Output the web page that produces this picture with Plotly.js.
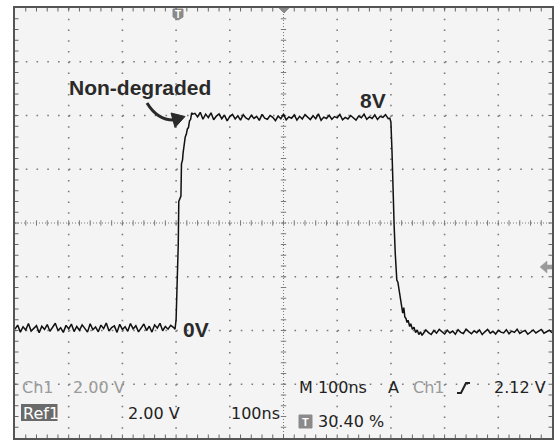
<!DOCTYPE html>
<html><head><meta charset="utf-8">
<script src="https://cdn.plot.ly/plotly-3.0.1.min.js"></script>
<style>html,body{margin:0;padding:0;background:#fff}#chart{width:554px;height:441px}</style>
</head><body><div id="chart"></div>
<script>
// Waveform samples (time in ns, voltage in V)
const tBase1 = [0,5,10,15,20,25,30,35,40,45,50,55,60,65,70,75,80,85,90,95,100,105,110,115,120,125,130,135,140,145,150,155,160,165,170,175,180,185,190,195,200,205,210,215,220,225,230,235,240,245,250,255,260,265,270,275,280,285,290];
const vBase1 = [0.05,0.20,-0.06,0.14,0.02,0.26,-0.02,0.09,0.18,-0.08,0.16,0.04,0.22,-0.03,0.12,0.27,0.00,0.10,-0.07,0.19,0.06,0.24,-0.04,0.15,0.01,0.21,0.08,-0.06,0.25,0.03,0.13,-0.05,0.20,0.07,0.28,-0.02,0.11,0.17,-0.07,0.23,0.04,0.14,-0.03,0.26,0.06,0.18,-0.05,0.12,0.24,0.00,0.16,-0.06,0.21,0.09,0.27,-0.01,0.15,0.05,0.19];
const tRise = [295,298,300,302,304,305,307,309,310,312,313,315,317,319,321,323,325,327,329,331];
const vRise = [0.12,0.05,0.4,1.6,3.2,4.8,4.9,5.0,6.2,6.35,6.6,7.0,7.2,7.3,7.5,7.55,7.8,7.85,8.1,8.05];
const tTop = [335,340,345,350,355,360,365,370,375,380,385,390,395,400,405,410,415,420,425,430,435,440,445,450,455,460,465,470,475,480,485,490,495,500,505,510,515,520,525,530,535,540,545,550,555,560,565,570,575,580,585,590,595,600,605,610,615,620,625,630,635,640,645,650,655,660,665,670,675,680,685,690,695];
const vTop = [8.08,7.95,8.12,7.86,8.05,7.92,8.10,7.84,7.98,8.06,7.88,8.02,7.80,7.96,8.04,7.87,7.99,7.83,8.03,7.91,7.85,8.01,7.89,7.97,7.82,8.04,7.90,7.86,8.00,7.93,7.81,7.98,7.88,8.05,7.84,7.95,7.90,8.02,7.83,7.97,7.87,8.03,7.92,7.85,7.99,7.88,8.06,7.82,7.94,7.89,8.01,7.86,7.96,7.91,8.04,7.84,7.93,7.87,8.00,7.90,7.83,7.98,7.92,8.05,7.86,7.95,7.89,8.02,7.85,7.97,7.93,8.03,7.88];
const tFall = [698,700,702,704,706,708,711,713,716,718,720,722,724,726,728,730,732,735,737,740,743,746,749,752,755,758];
const vFall = [7.9,7.76,6.7,4.86,3.93,2.9,1.88,1.8,1.35,1.1,0.9,0.65,0.85,0.5,0.45,0.3,0.38,0.15,0.25,0.05,0.12,-0.08,0.02,-0.15,-0.05,-0.18];
const tBase2 = [760,765,770,775,780,785,790,795,800,805,810,815,820,825,830,835,840,845,850,855,860,865,870,875,880,885,890,895,900,905,910,915,920,925,930,935,940,945,950,955,960,965,970,975,980,985,990,995,1000];
const vBase2 = [-0.12,0.02,-0.08,-0.15,0.00,-0.10,0.04,-0.06,-0.13,0.01,-0.09,-0.02,-0.14,0.03,-0.07,-0.11,0.05,-0.04,-0.12,-0.01,-0.08,0.02,-0.15,-0.05,0.04,-0.10,-0.03,-0.13,0.01,-0.06,-0.09,0.03,-0.12,-0.02,-0.07,0.05,-0.11,-0.04,0.00,-0.14,-0.06,0.02,-0.09,-0.03,0.04,-0.10,-0.05,0.01,-0.08];

// Readout labels
const labelSignal = 'Non-degraded';
const labelHigh = '8V';
const labelLow = '0V';
const readCh = 'Ch1';
const readScale = '2.00 V';
const readRef = 'Ref1';
const readRefScale = '2.00 V';
const readRefTime = '100ns';
const readTrigPos = '30.40 %';
const readM = 'M 100ns';
const readA = 'A';
const readTrigLevel = '2.12 V';

const X0 = 0, X1 = 1000, Y0 = -4, Y1 = 12;
const L = 15, T = 8, W = 537, H = 430;
const tx = px => X0 + (px - L) / W * (X1 - X0);
const vy = py => Y1 - (py - T) / H * (Y1 - Y0);

const t = [].concat(tBase1, tRise, tTop, tFall, tBase2);
const v = [].concat(vBase1, vRise, vTop, vFall, vBase2);

const shapes = [];
const grey = '#7a7a7a';
const dotDash = '1.6px,9.15px';
// dotted graticule (major divisions)
for (let k = 1; k < 10; k++) {
  if (k === 5) continue;
  shapes.push({type:'line', layer:'below', xref:'x', yref:'y', x0:k * 100, x1:k * 100, y0:Y1, y1:Y0, line:{color:grey, width:1.6, dash:dotDash}});
}
for (let k = 1; k < 8; k++) {
  if (k === 4) continue;
  const y = Y0 + k * 2;
  shapes.push({type:'line', layer:'below', xref:'x', yref:'y', x0:X0, x1:X1, y0:y, y1:y, line:{color:grey, width:1.6, dash:dotDash}});
}
// centre cross (denser dotted) with ticks
shapes.push({type:'line', layer:'below', xref:'x', yref:'y', x0:500, x1:500, y0:Y1, y1:Y0, line:{color:grey, width:1, dash:'1px,2px'}});
shapes.push({type:'line', layer:'below', xref:'x', yref:'y', x0:X0, x1:X1, y0:4, y1:4, line:{color:grey, width:1, dash:'1px,2px'}});
for (let k = 1; k < 50; k++) {
  const x = k * 20;
  shapes.push({type:'line', layer:'below', xref:'x', yref:'y', x0:x, x1:x, y0:4 - 0.1, y1:4 + 0.1, line:{color:grey, width:1}});
}
for (let k = 1; k < 40; k++) {
  const y = Y0 + k * 0.4;
  shapes.push({type:'line', layer:'below', xref:'x', yref:'y', x0:500 - 5, x1:500 + 5, y0:y, y1:y, line:{color:grey, width:1}});
}
// edge ticks
for (let k = 1; k < 50; k++) {
  const x = k * 20;
  shapes.push({type:'line', layer:'below', xref:'x', yref:'y', x0:x, x1:x, y0:Y1, y1:vy(T + 3.5), line:{color:'#666', width:1}});
  shapes.push({type:'line', layer:'below', xref:'x', yref:'y', x0:x, x1:x, y0:Y0, y1:vy(T + H - 3.5), line:{color:'#666', width:1}});
}
for (let k = 1; k < 40; k++) {
  const y = Y0 + k * 0.4;
  shapes.push({type:'line', layer:'below', xref:'x', yref:'y', x0:X0, x1:tx(L + 3.5), y0:y, y1:y, line:{color:'#666', width:1}});
  shapes.push({type:'line', layer:'below', xref:'x', yref:'y', x0:X1, x1:tx(L + W - 3.5), y0:y, y1:y, line:{color:'#666', width:1}});
}
const P = (px, py) => tx(px).toFixed(2) + ',' + vy(py).toFixed(3);
// curved arrow
shapes.push({type:'path', xref:'x', yref:'y', path:'M' + P(147,103) + ' Q' + P(158,121) + ' ' + P(175,120), line:{color:'#2a2a2a', width:3}});
shapes.push({type:'path', xref:'x', yref:'y', path:'M' + P(185,116.5) + ' L' + P(171,113) + ' L' + P(175,127.5) + ' Z', fillcolor:'#2a2a2a', line:{color:'#2a2a2a', width:1}});
// trigger marker top
shapes.push({type:'path', xref:'x', yref:'y', path:'M' + P(173,9) + ' L' + P(183,9) + ' L' + P(183,17) + ' L' + P(178,20) + ' L' + P(173,17) + ' Z', fillcolor:'#8a8a8a', line:{color:'#8a8a8a', width:1}});
// horizontal position marker
shapes.push({type:'path', xref:'x', yref:'y', path:'M' + P(279,8) + ' L' + P(289,8) + ' L' + P(284,13) + ' Z', fillcolor:'#8a8a8a', line:{color:'#8a8a8a', width:1}});
// trigger level marker right
shapes.push({type:'path', xref:'x', yref:'y', path:'M' + P(540,267) + ' L' + P(547,261) + ' L' + P(547,265) + ' L' + P(552,265) + ' L' + P(552,269) + ' L' + P(547,269) + ' L' + P(547,273) + ' Z', fillcolor:'#9a9a9a', line:{color:'#9a9a9a', width:0.5}});
// slope icon
shapes.push({type:'path', xref:'x', yref:'y', path:'M' + P(457,393) + ' L' + P(461,393) + ' L' + P(466,383) + ' L' + P(470,383), line:{color:'#222', width:2}});
// T icon bottom
shapes.push({type:'rect', xref:'x', yref:'y', x0:tx(299), x1:tx(312), y0:vy(415), y1:vy(428), fillcolor:'#8a8a8a', line:{color:'#8a8a8a', width:1}});
// Ref1 box
shapes.push({type:'rect', xref:'x', yref:'y', x0:tx(21), x1:tx(57.5), y0:vy(404), y1:vy(421), fillcolor:'#6a6a6a', line:{width:0}});

const fontR = 'DejaVu Sans, sans-serif';
const A = (text, px, py, opt) => Object.assign({text:text, xref:'x', yref:'y', x:tx(px), y:vy(py), xanchor:'left', yanchor:'middle', showarrow:false, font:{family:fontR, size:16, color:'#222'}}, opt || {});
const bold = {family:'Liberation Sans, Arial, sans-serif', size:21, color:'#2a2a2a', weight:'bold'};
const annotations = [
  A('<b>' + labelSignal + '</b>', 67, 87, {font:bold}),
  A('<b>' + labelHigh + '</b>', 358, 100, {font:bold}),
  A('<b>' + labelLow + '</b>', 181, 329, {font:bold}),
  A(readCh, 20, 387, {font:{family:fontR, size:16, color:'#9a9a9a'}}),
  A(readScale, 71, 387, {font:{family:fontR, size:16, color:'#9a9a9a'}}),
  A(readRef, 21, 413, {font:{family:fontR, size:16, color:'#ffffff'}}),
  A(readRefScale, 126, 413),
  A(readRefTime, 229, 413),
  A('<b>T</b>', 305.5, 421.5, {xanchor:'center', font:{family:'Liberation Sans, sans-serif', size:11, color:'#fff'}}),
  A('<b>T</b>', 178, 14, {xanchor:'center', font:{family:'Liberation Sans, sans-serif', size:10, color:'#fff'}}),
  A(readTrigPos, 316, 421),
  A(readM, 297, 387),
  A(readA, 386, 387),
  A(readCh, 411, 387, {font:{family:fontR, size:16, color:'#9a9a9a'}}),
  A(readTrigLevel, 492, 387)
];

const data = [{x:t, y:v, type:'scatter', mode:'lines', line:{color:'#111', width:1.5}, hoverinfo:'skip'}];
const axBase = {showticklabels:false, ticks:'', zeroline:false, showline:true, mirror:true, linecolor:'#555', linewidth:2, showgrid:false, fixedrange:true};
const layout = {
  width:554, height:441,
  margin:{l:L, r:554 - L - W, t:T, b:441 - T - H, pad:0},
  paper_bgcolor:'#ffffff', plot_bgcolor:'#f4f4f4',
  showlegend:false,
  xaxis:Object.assign({}, axBase, {range:[X0, X1]}),
  yaxis:Object.assign({}, axBase, {range:[Y0, Y1]}),
  shapes:shapes, annotations:annotations
};
Plotly.newPlot('chart', data, layout, {displayModeBar:false, staticPlot:true});
</script></body></html>
